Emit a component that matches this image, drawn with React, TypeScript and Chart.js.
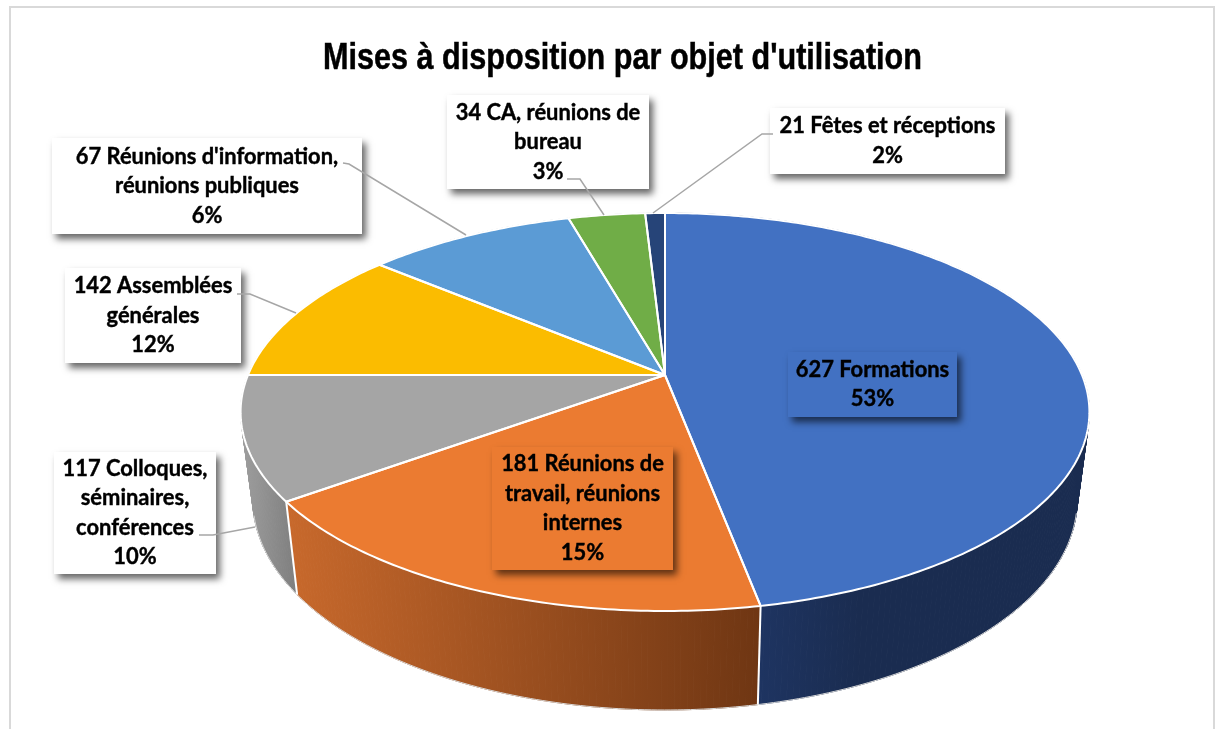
import React, { useEffect, useRef } from "react";
import { Chart, registerables } from "chart.js";

Chart.register(...registerables);

const chartTitle = "Mises à disposition par objet d'utilisation";

const categories = [
  "Formations",
  "Réunions de travail, réunions internes",
  "Colloques, séminaires, conférences",
  "Assemblées générales",
  "Réunions d'information, réunions publiques",
  "CA, réunions de bureau",
  "Fêtes et réceptions",
];
// Counts and percentages printed in the reference's labels.
const labelCounts = [627, 181, 117, 142, 67, 34, 21];
const labelPercents = ["53%", "15%", "10%", "12%", "6%", "3%", "2%"];
// Slice sizes as they are actually drawn in the reference (they differ from its printed labels).
const drawnShares = [47, 18, 10, 11.1, 9.5, 3.5, 0.9];

const labelLines = [
  ["627 Formations", "53%"],
  ["181 Réunions de", "travail, réunions", "internes", "15%"],
  ["117 Colloques,", "séminaires,", "conférences", "10%"],
  ["142 Assemblées", "générales", "12%"],
  ["67 Réunions d'information,", "réunions publiques", "6%"],
  ["34 CA, réunions de", "bureau", "3%"],
  ["21 Fêtes et réceptions", "2%"],
];

const sliceColors = ["#4271c2", "#eb7b31", "#a5a5a5", "#fbbc00", "#5b9bd5", "#70ad47", "#264478"];
const wallStops = [
  ["#1e3461", "#1a2c50", 760, 860],
  ["#c8692c", "#6f3613", 287, 760],
  ["#9e9e9e", "#7e7e7e", 241, 297],
  ["#888888", "#888888", 0, 1],
  ["#888888", "#888888", 0, 1],
  ["#888888", "#888888", 0, 1],
  ["#888888", "#888888", 0, 1],
];
const labelFills = ["#4271c2", "#eb7b31", "#ffffff", "#ffffff", "#ffffff", "#ffffff", "#ffffff"];
// left, top, right, bottom of each label box
const labelBoxes = [
  [788, 352, 957, 417],
  [492, 447, 673, 570],
  [54, 452, 216, 574],
  [65, 268, 241, 363],
  [52, 138, 362, 234],
  [447, 95, 649, 189],
  [770, 108, 1005, 174],
];
const leaders = [
  null,
  null,
  [[199, 535], [213, 535], [255, 527]],
  [[237, 294], [250, 294], [296, 313]],
  [[343, 163], [349, 164], [466, 235]],
  [[567, 179], [580, 179], [604, 215]],
  [[773, 134], [762, 134], [653, 213]],
];

// Projection of the pie disc, in perspective, on the canvas
const topDisc = { x0: 665, y0: 375, a: 417, b: 192.1, p: 0.186 };
const baseDisc = { x0: 665, y0: 460.6, a: 405, b: 203, p: 0.186 };
const project = (d: any, ang: number) => {
  const w = 1 - d.p * Math.sin(ang);
  return [d.x0 + (d.a * Math.cos(ang)) / w, d.y0 + (d.b * Math.sin(ang)) / w];
};
const STEP = Math.PI / 240;

const pie3d = {
  id: "pie3d",
  beforeDraw(chart: any) {
    const ctx = chart.ctx;
    ctx.save();
    ctx.fillStyle = "#ffffff";
    ctx.fillRect(0, 0, chart.width, chart.height);
    ctx.strokeStyle = "#d9d9d9";
    ctx.lineWidth = 2;
    ctx.strokeRect(10, 7, 1204, 760);
    ctx.font = "bold 37px 'Liberation Sans'";
    ctx.fillStyle = "#000000";
    ctx.strokeStyle = "#000000";
    ctx.lineWidth = 0.5;
    ctx.textAlign = "center";
    ctx.textBaseline = "alphabetic";
    ctx.fillText(chartTitle, 622.5, 69, 599);
    ctx.strokeText(chartTitle, 622.5, 69, 599);
    ctx.restore();
  },
  beforeDatasetsDraw(chart: any) {
    const ctx = chart.ctx;
    const arcs = chart.getDatasetMeta(0).data;
    ctx.save();
    // walls
    arcs.forEach((arc: any, i: number) => {
      const [c1, c2, x1, x2] = wallStops[i] as any;
      const g = ctx.createLinearGradient(x1, 0, x2, 0);
      g.addColorStop(0, c1);
      g.addColorStop(1, c2);
      ctx.fillStyle = g;
      ctx.strokeStyle = g;
      ctx.lineWidth = 1;
      for (let a = arc.startAngle; a < arc.endAngle; a += STEP) {
        const e = Math.min(a + STEP, arc.endAngle);
        const p = [project(topDisc, a), project(topDisc, e), project(baseDisc, e), project(baseDisc, a)];
        ctx.beginPath();
        p.forEach(([x, y], k) => (k ? ctx.lineTo(x, y) : ctx.moveTo(x, y)));
        ctx.closePath();
        ctx.fill();
        ctx.stroke();
      }
    });
    // base rim, only where it is the outline of the pie
    ctx.strokeStyle = "#d9d9d9";
    ctx.lineWidth = 1;
    ctx.beginPath();
    for (let a = 0.25; a < Math.PI - 0.25; a += STEP) {
      const [x, y] = project(baseDisc, a);
      a === 0.25 ? ctx.moveTo(x, y) : ctx.lineTo(x, y);
    }
    ctx.stroke();
    // white seams between the walls
    ctx.strokeStyle = "#ffffff";
    ctx.lineWidth = 2;
    arcs.forEach((arc: any) => {
      const s = Math.sin(arc.endAngle);
      if (s > 0.1) {
        const [x1, y1] = project(topDisc, arc.endAngle);
        const [x2, y2] = project(baseDisc, arc.endAngle);
        ctx.beginPath();
        ctx.moveTo(x1, y1);
        ctx.lineTo(x2, y2);
        ctx.stroke();
      }
    });
    // top face
    ctx.lineJoin = "round";
    arcs.forEach((arc: any, i: number) => {
      ctx.beginPath();
      ctx.moveTo(topDisc.x0, topDisc.y0);
      for (let a = arc.startAngle; a < arc.endAngle; a += STEP) {
        const [x, y] = project(topDisc, a);
        ctx.lineTo(x, y);
      }
      const [xe, ye] = project(topDisc, arc.endAngle);
      ctx.lineTo(xe, ye);
      ctx.closePath();
      ctx.fillStyle = sliceColors[i];
      ctx.fill();
    });
    arcs.forEach((arc: any) => {
      ctx.beginPath();
      ctx.moveTo(topDisc.x0, topDisc.y0);
      for (let a = arc.startAngle; a < arc.endAngle; a += STEP) {
        const [x, y] = project(topDisc, a);
        ctx.lineTo(x, y);
      }
      const [xe, ye] = project(topDisc, arc.endAngle);
      ctx.lineTo(xe, ye);
      ctx.closePath();
      ctx.strokeStyle = "#ffffff";
      ctx.lineWidth = 2;
      ctx.stroke();
    });
    ctx.restore();
    return false;
  },
  afterDraw(chart: any) {
    const ctx = chart.ctx;
    ctx.save();
    labelBoxes.forEach(([l, t, r, b], i) => {
      ctx.save();
      ctx.shadowColor = "rgba(0,0,0,0.6)";
      ctx.shadowBlur = 7;
      ctx.shadowOffsetX = 4;
      ctx.shadowOffsetY = 5;
      ctx.fillStyle = labelFills[i];
      ctx.fillRect(l, t, r - l, b - t);
      ctx.restore();
    });
    leaders.forEach((pts) => {
      if (!pts) return;
      ctx.strokeStyle = "#a6a6a6";
      ctx.lineWidth = 1.5;
      ctx.beginPath();
      pts.forEach(([x, y], k) => (k ? ctx.lineTo(x, y) : ctx.moveTo(x, y)));
      ctx.stroke();
    });
    ctx.fillStyle = "#000000";
    ctx.strokeStyle = "#000000";
    ctx.lineWidth = 0.4;
    ctx.font = "bold 21.9px Lato";
    ctx.textAlign = "center";
    ctx.textBaseline = "middle";
    labelLines.forEach((lines, i) => {
      const [l, t, r, b] = labelBoxes[i];
      const cx = (l + r) / 2;
      const cy = (t + b) / 2;
      const lh = 29.5;
      lines.forEach((txt, k) => {
        const y = cy + (k - (lines.length - 1) / 2) * lh;
        ctx.fillText(txt, cx, y);
        ctx.strokeText(txt, cx, y);
      });
    });
    ctx.restore();
  },
};

export default function App() {
  const ref = useRef<HTMLCanvasElement>(null);
  useEffect(() => {
    document.body.style.margin = "0";
    const chart = new Chart(ref.current as HTMLCanvasElement, {
      type: "pie",
      data: {
        labels: categories.map((c, i) => `${labelCounts[i]} ${c} ${labelPercents[i]}`),
        datasets: [{ data: drawnShares, backgroundColor: sliceColors, borderColor: "#ffffff" }],
      },
      options: {
        responsive: false,
        animation: false,
        plugins: { legend: { display: false }, tooltip: { enabled: false } },
      },
      plugins: [pie3d],
    } as any);
    return () => chart.destroy();
  }, []);
  return <canvas ref={ref} width={1221} height={729} style={{ display: "block" }} />;
}
